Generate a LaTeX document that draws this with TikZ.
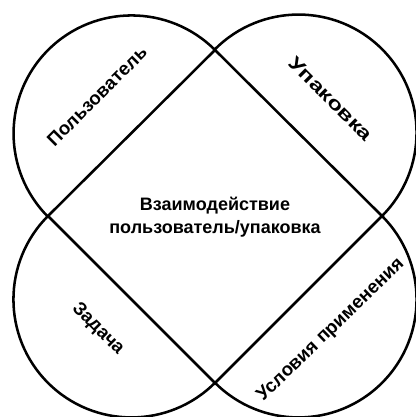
\documentclass[tikz,border=0pt]{standalone}
\usepackage{fontspec}
\setmainfont{Liberation Sans}
\usetikzlibrary{calc}
\tikzset{
  rim/.style={line width=1.9pt, draw=black, line join=miter},
  tag/.style={font=\fontsize{14}{16}\selectfont\bfseries, inner sep=0pt},
  core/.style={font=\fontsize{13.5}{17}\selectfont\bfseries, align=center, inner sep=0pt}
}
\newcommand{\wide}[1]{\scalebox{1.3}[1]{#1}}
\begin{document}
\begin{tikzpicture}[x=0.75pt,y=0.75pt]
\useasboundingbox (0,0) rectangle (416,417);
\coordinate (top) at (215,367);
\coordinate (lft) at (48,201);
\coordinate (rgt) at (382,201);
\coordinate (bot) at (215,34);
% square and the four half circles on its sides
\draw[rim] (top) -- (rgt) -- (bot) -- (lft) -- cycle;
\draw[rim] (top) arc[start angle=45, end angle=225, radius=118];
\draw[rim] (rgt) arc[start angle=-45, end angle=135, radius=118];
\draw[rim] (rgt) arc[start angle=45, end angle=-135, radius=118];
\draw[rim] (lft) arc[start angle=135, end angle=315, radius=118];
% labels
\node[tag, rotate=45] (user) at (97,321) {Пользователь};
\node[tag, rotate=-45] (pack) at (331,318) {\wide{Упаковка}};
\node[tag, rotate=-45] (task) at (98,88) {Задача};
\node[tag, rotate=44] (cond) at (331,87) {Условия применения};
\node[core] (inter) at (215,200) {Взаимодействие\\пользователь/упаковка};
\end{tikzpicture}
\end{document}
